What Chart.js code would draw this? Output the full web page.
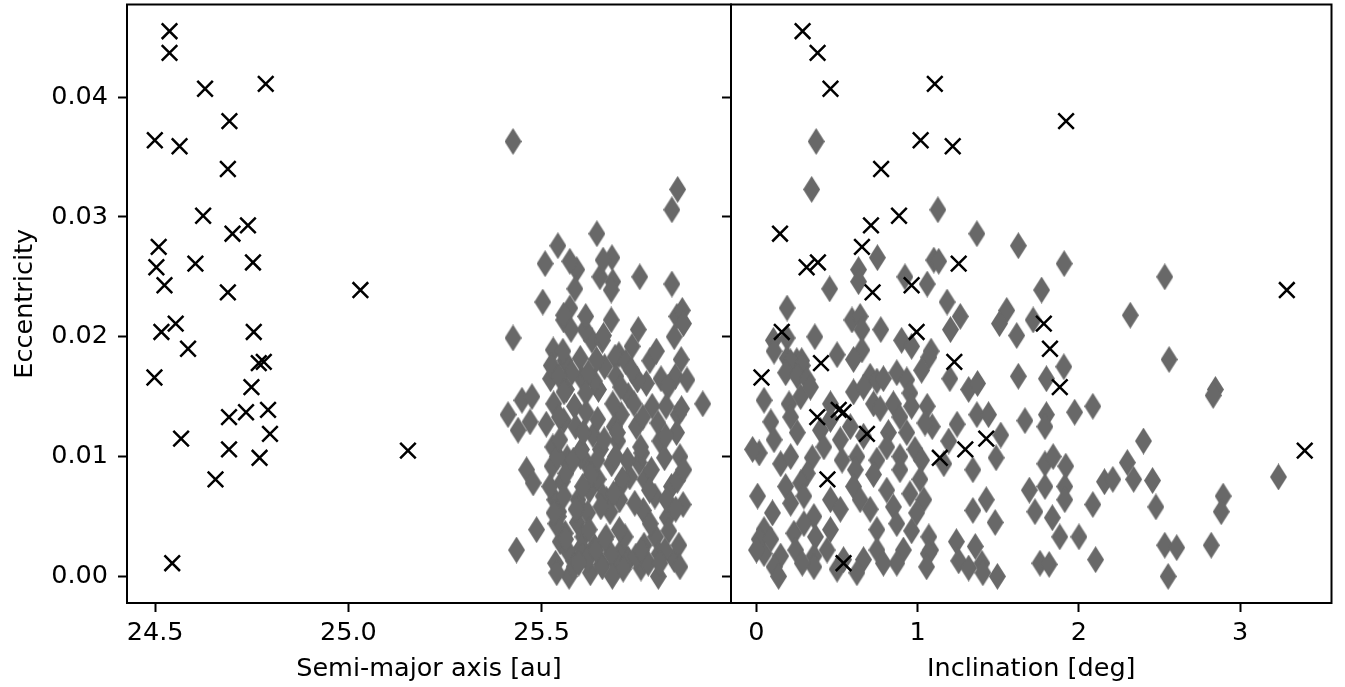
<!DOCTYPE html>
<html>
<head>
<meta charset="utf-8">
<script src="https://cdn.jsdelivr.net/npm/chart.js"></script>
<style>
  html, body { margin: 0; padding: 0; background: #fff; }
  #wrap { position: relative; width: 1345px; height: 687px; overflow: hidden; background: #fff; }
  /* the canvases start 9px above the page so the plot frame lands at y=4 */
  canvas { position: absolute; top: -9px; }
  #left-chart { left: 0; width: 745px; height: 696px; }
  #right-chart { left: 711px; width: 634px; height: 696px; }
</style>
</head>
<body>
<div id="wrap">
  <canvas id="left-chart" width="745" height="696"></canvas>
  <canvas id="right-chart" width="634" height="696"></canvas>
</div>
<script>
// --- Tick labels ---
const eccTicks = [0, 0.01, 0.02, 0.03, 0.04];
const semiTicks = [24.5, 25.0, 25.5];
const incTicks = [0, 1, 2, 3];

// --- Crosses (same objects in both panels) ---
const crossSemi = [24.537, 24.537, 24.629, 24.786, 24.499, 24.563, 24.692, 24.688, 24.624, 24.740,
  24.700, 24.509, 24.503, 24.604, 24.753, 24.524, 24.688, 25.031, 24.516, 24.553,
  24.755, 24.585, 24.768, 24.781, 24.498, 24.749, 24.691, 24.735, 24.792, 24.567,
  24.797, 24.691, 24.770, 25.154, 24.656, 24.544];
const crossEcc = [0.0455, 0.0437, 0.0407, 0.0411, 0.0364, 0.0359, 0.0380, 0.0340, 0.0301, 0.0293,
  0.0286, 0.0275, 0.0258, 0.0261, 0.0262, 0.0243, 0.0237, 0.0239, 0.0204, 0.0211,
  0.0204, 0.0190, 0.0178, 0.0179, 0.0166, 0.0158, 0.0133, 0.0137, 0.0139, 0.0115,
  0.0119, 0.0106, 0.0099, 0.0105, 0.0081, 0.0011];
const crossInc = [0.286, 0.379, 0.459, 1.106, 1.018, 1.217, 1.92, 0.773, 0.884, 0.71,
  0.146, 0.654, 0.311, 1.254, 0.381, 0.962, 0.72, 3.289, 0.157, 1.782,
  0.993, 1.82, 0.40, 1.227, 0.031, 1.881, 0.377, 0.54, 0.51, 1.425,
  0.685, 1.295, 1.137, 3.40, 0.44, 0.54];

// --- Diamonds ---
const diaInc = [0.37, 0.342, 0.75, 0.633, 0.633, 0.454, 0.921, 0.19, 0.105, 0.19,
  0.362, 0.592, 0.643, 0.654, 0.771, 0.654, 0.50, 0.90, 0.962, 0.19,
  0.25, 0.28, 1.125, 1.367, 1.624, 1.908, 1.10, 1.13, 1.059, 1.182,
  1.264, 1.203, 1.768, 1.552, 1.507, 1.614, 1.716, 2.318, 1.083, 1.069,
  1.199, 1.316, 1.371, 1.059, 1.09, 1.244, 1.367, 1.439, 1.515, 1.486,
  1.342, 1.192, 1.162, 1.038, 1.342, 1.425, 1.48, 1.08, 1.069, 1.24,
  1.357, 1.254, 1.316, 1.398, 1.404, 1.494, 1.624, 1.798, 1.906, 1.973,
  2.086, 1.665, 1.798, 1.789, 2.30, 1.789, 1.84, 1.918, 1.692, 1.789,
  1.912, 1.912, 1.727, 1.835, 1.881, 2.0, 2.086, 2.158, 2.21, 2.103,
  1.758, 1.815, 2.532, 2.559, 2.846, 2.832, 2.40, 2.339, 2.456, 2.477,
  3.237, 2.894, 2.882, 2.532, 2.606, 2.82, 2.553, 0.109, 0.212, 0.284,
  0.181, 0.253, 0.315, 0.602, 0.705, 0.747, 0.787, 0.87, 0.932, 1.024,
  0.047, 0.089, 0.202, 0.212, 0.274, 0.335, 0.459, 0.459, 0.602, 0.664,
  0.726, 0.767, 0.582, 0.849, 0.89, 0.952, 0.962, 1.045, 0.818, 0.808,
  0.932, 0.983, 0.017, 0.15, 0.212, 0.346, 0.315, 0.531, 0.623, 0.613,
  0.747, 0.726, 0.89, 0.89, 1.024, 1.014, 0.007, 0.099, 0.047, 0.181,
  0.212, 0.274, 0.294, 0.356, 0.366, 0.232, 0.294, 0.15, 0.047, 0.109,
  0.459, 0.52, 0.459, 0.438, 0.602, 0.643, 0.705, 0.747, 0.664, 0.623,
  0.50, 0.54, 0.808, 0.849, 0.87, 0.952, 0.993, 0.962, 0.911, 0.87,
  1.065, 1.055, 0.356, 0.356, 0.243, 0.284, 0.747, 0.787, 0.137, 0.017,
  0.0, 0.089, -0.024, 0.397, 0.418, 0.52, 0.664, 0.109, 0.253];
const diaEcc = [0.0363, 0.0323, 0.0266, 0.0256, 0.0246, 0.0240, 0.0250, 0.0224, 0.0197, 0.0199,
  0.0200, 0.0214, 0.0217, 0.0206, 0.0206, 0.0189, 0.0185, 0.0197, 0.0192, 0.0182,
  0.0180, 0.0180, 0.0306, 0.0286, 0.0276, 0.0261, 0.0264, 0.0263, 0.0244, 0.0229,
  0.0217, 0.0206, 0.0239, 0.0222, 0.0211, 0.0201, 0.0214, 0.0218, 0.0188, 0.0183,
  0.0165, 0.0156, 0.0161, 0.0142, 0.0125, 0.0127, 0.0135, 0.0135, 0.0118, 0.0099,
  0.0089, 0.0113, 0.0094, 0.0064, 0.0055, 0.0064, 0.0045, 0.0022, 0.0033, 0.0029,
  0.0025, 0.0013, 0.0007, 0.0011, 0.0003, 0.0000, 0.0167, 0.0165, 0.0175, 0.0137,
  0.0142, 0.0130, 0.0135, 0.0125, 0.0095, 0.0094, 0.0100, 0.0092, 0.0072, 0.0075,
  0.0075, 0.0064, 0.0054, 0.0049, 0.0033, 0.0033, 0.0060, 0.0079, 0.0081, 0.0014,
  0.0011, 0.0010, 0.0250, 0.0181, 0.0156, 0.0151, 0.0113, 0.0081, 0.0080, 0.0058,
  0.0083, 0.0067, 0.0054, 0.0026, 0.0024, 0.0026, 0.0000, 0.0188, 0.0179, 0.0176,
  0.0170, 0.0167, 0.0164, 0.0181, 0.0167, 0.0163, 0.0165, 0.0170, 0.0164, 0.0172,
  0.0147, 0.0129, 0.0144, 0.0133, 0.0150, 0.0158, 0.0144, 0.0131, 0.0154, 0.0158,
  0.0144, 0.0140, 0.0125, 0.0144, 0.0133, 0.0153, 0.0142, 0.0128, 0.0120, 0.0108,
  0.0120, 0.0106, 0.0103, 0.0094, 0.0100, 0.0099, 0.0086, 0.0097, 0.0100, 0.0089,
  0.0097, 0.0085, 0.0100, 0.0089, 0.0097, 0.0081, 0.0067, 0.0053, 0.0039, 0.0075,
  0.0061, 0.0078, 0.0067, 0.0050, 0.0033, 0.0036, 0.0044, 0.0017, 0.0019, 0.0008,
  0.0064, 0.0056, 0.0039, 0.0022, 0.0075, 0.0064, 0.0056, 0.0039, 0.0014, 0.0003,
  0.0006, 0.0014, 0.0072, 0.0058, 0.0044, 0.0069, 0.0053, 0.0038, 0.0022, 0.0011,
  0.0019, 0.0008, 0.0017, 0.0008, 0.0022, 0.0011, 0.0022, 0.0011, 0.0000, 0.0031,
  0.0022, 0.0031, 0.0106, 0.0122, 0.0108, 0.0114, 0.0117, 0.0114, 0.0120];
const diaSemi = [25.426, 25.852, 25.682, 25.591, 25.684, 25.586, 25.651, 25.573, 25.630, 25.426,
  25.843, 25.557, 25.850, 25.612, 25.576, 25.530, 25.700, 25.657, 25.734, 25.600,
  25.560, 25.780, 25.837, 25.643, 25.542, 25.509, 25.659, 25.573, 25.837, 25.503,
  25.614, 25.750, 25.680, 25.864, 25.867, 25.660, 25.680, 25.557, 25.555, 25.690,
  25.523, 25.647, 25.771, 25.585, 25.745, 25.512, 25.706, 25.853, 25.633, 25.566,
  25.461, 25.806, 25.617, 25.534, 25.763, 25.668, 25.592, 25.707, 25.795, 25.548,
  25.637, 25.583, 25.757, 25.694, 25.626, 25.802, 25.846, 25.604, 25.663, 25.615,
  25.786, 25.557, 25.413, 25.688, 25.752, 25.569, 25.858, 25.527, 25.624, 25.703,
  25.836, 25.594, 25.677, 25.825, 25.716, 25.607, 25.866, 25.553, 25.767, 25.843,
  25.536, 25.655, 25.754, 25.642, 25.564, 25.724, 25.697, 25.646, 25.851, 25.598,
  25.728, 25.793, 25.544, 25.765, 25.603, 25.855, 25.571, 25.797, 25.718, 25.525,
  25.578, 25.692, 25.748, 25.861, 25.545, 25.636, 25.809, 25.621, 25.876, 25.733,
  25.449, 25.470, 25.684, 25.762, 25.475, 25.705, 25.917, 25.645, 25.558, 25.827,
  25.531, 25.862, 25.588, 25.739, 25.546, 25.614, 25.822, 25.801, 25.696, 25.529,
  25.849, 25.652, 25.759, 25.681, 25.601, 25.818, 25.563, 25.722, 25.541, 25.784,
  25.643, 25.628, 25.691, 25.868, 25.582, 25.709, 25.558, 25.619, 25.701, 25.521,
  25.741, 25.478, 25.659, 25.543, 25.667, 25.561, 25.781, 25.605, 25.804, 25.657,
  25.823, 25.589, 25.487, 25.435, 25.606, 25.702, 25.847, 25.623, 25.725, 25.539,
  25.711, 25.618, 25.779, 25.653, 25.537, 25.686, 25.532, 25.829, 25.566, 25.776,
  25.679, 25.584, 25.744, 25.858, 25.641, 25.596, 25.819, 25.806, 25.683, 25.562,
  25.758, 25.664, 25.603, 25.439, 25.756, 25.547, 25.821, 25.662, 25.608];

const FONT = "'DejaVu Sans', sans-serif";
const FONT_SIZE = 25.5;
const GRAY = "#686868";

// thin diamond marker (matplotlib 'd')
function thinDiamond(w, h, color) {
  const c = document.createElement("canvas");
  c.width = w;
  c.height = h;
  const g = c.getContext("2d");
  g.fillStyle = color;
  g.beginPath();
  g.moveTo(w / 2, 0);
  g.lineTo(w, h / 2);
  g.lineTo(w / 2, h);
  g.lineTo(0, h / 2);
  g.closePath();
  g.fill();
  return c;
}
const diamondImg = thinDiamond(17, 27, GRAY);

// black frame around the plot area, drawn over the markers
const framePlugin = {
  id: "frame",
  afterDatasetsDraw(chart) {
    const { ctx, chartArea: a } = chart;
    ctx.save();
    ctx.strokeStyle = "#000";
    ctx.lineWidth = 2;
    ctx.strokeRect(a.left, a.top, a.right - a.left, a.bottom - a.top);
    ctx.restore();
  },
};

const tickFont = { family: FONT, size: FONT_SIZE };
const tickGrid = { drawOnChartArea: false, drawTicks: true, tickLength: 9, tickWidth: 2, tickColor: "#000" };
const noPad = (s) => { s.paddingTop = 0; s.paddingBottom = 0; s.paddingLeft = 0; s.paddingRight = 0; };

function yScale(showLabels, width) {
  return {
    type: "linear",
    min: -0.00222,
    max: 0.04773,
    afterBuildTicks: (s) => { s.ticks = eccTicks.map((v) => ({ value: v })); },
    afterFit: (s) => { s.width = width; noPad(s); },
    grid: tickGrid,
    border: { display: false },
    ticks: { display: showLabels, color: "#000", font: tickFont, padding: 10, callback: (v) => v.toFixed(2) },
    title: {
      display: showLabels,
      text: "Eccentricity",
      color: "#000",
      font: tickFont,
      padding: { top: 10, bottom: 0 },
    },
  };
}

function xScale(min, max, ticks, fmt, label) {
  return {
    type: "linear",
    min: min,
    max: max,
    afterBuildTicks: (s) => { s.ticks = ticks.map((v) => ({ value: v })); },
    afterFit: (s) => { s.height = 84; noPad(s); },
    grid: tickGrid,
    border: { display: false },
    ticks: { color: "#000", font: tickFont, padding: 6, maxRotation: 0, autoSkip: false, callback: fmt },
    title: {
      display: true,
      text: label,
      color: "#000",
      font: tickFont,
      padding: { top: 0, bottom: 2 },
    },
  };
}

function datasets(xDia, xCross) {
  return [
    {
      label: "diamonds",
      data: xDia.map((x, k) => ({ x: x, y: diaEcc[k] })),
      pointStyle: diamondImg,
      pointRadius: 8,
      order: 1,
    },
    {
      label: "crosses",
      data: xCross.map((x, k) => ({ x: x, y: crossEcc[k] })),
      pointStyle: "crossRot",
      pointRadius: 11,
      borderColor: "#000",
      borderWidth: 2.5,
      order: 0,
    },
  ];
}

const common = {
  responsive: false,
  devicePixelRatio: 1,
  animation: false,
  events: [],
  plugins: { legend: { display: false }, tooltip: { enabled: false } },
};

new Chart(document.getElementById("left-chart"), {
  type: "scatter",
  data: { datasets: datasets(diaSemi, crossSemi) },
  options: {
    ...common,
    layout: { padding: { left: 0, right: 14, top: 4, bottom: 0 } },
    scales: {
      x: xScale(24.427, 25.99, semiTicks, (v) => v.toFixed(1), "Semi-major axis [au]"),
      y: yScale(true, 127),
    },
  },
  plugins: [framePlugin],
});

new Chart(document.getElementById("right-chart"), {
  type: "scatter",
  data: { datasets: datasets(diaInc, crossInc) },
  options: {
    ...common,
    layout: { padding: { left: 0, right: 10, top: 4, bottom: 0 } },
    scales: {
      x: xScale(-0.158, 3.566, incTicks, (v) => String(v), "Inclination [deg]"),
      y: yScale(false, 20),
    },
  },
  plugins: [framePlugin],
});
</script>
</body>
</html>
